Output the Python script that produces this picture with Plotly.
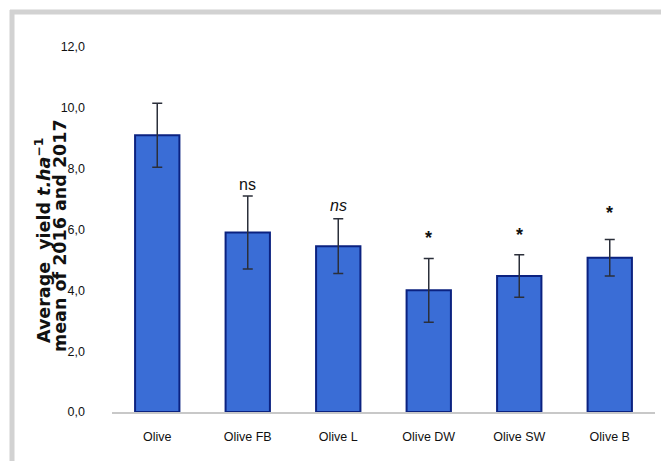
import plotly.graph_objects as go

categories = ["Olive", "Olive FB", "Olive L", "Olive DW", "Olive SW", "Olive B"]
yield_mean = [9.1, 5.9, 5.45, 4.0, 4.47, 5.07]
yield_err = [1.05, 1.2, 0.9, 1.05, 0.7, 0.6]
sig_labels = ["", "ns", "<i>ns</i>", "<b>*</b>", "<b>*</b>", "<b>*</b>"]
sig_y = [None, 7.47, 6.8, 5.72, 5.82, 6.55]
tick_vals = [0, 2, 4, 6, 8, 10, 12]
title_lines = ["<b>Average  yield <i>t.ha</i><sup>−1</sup></b>", "<b>mean of 2016 and 2017</b>"]

OFF = 8  # page body margin
W, H = 669 - OFF, 461 - OFF
ml, mr, mt, mb = 112 - OFF, 14, 47 - OFF, 49
pw, ph = W - ml - mr, H - mt - mb

def px_x(px):
    return (px - OFF - ml) / pw

def px_y(py):
    return (H - mb - (py - OFF)) / ph

fig = go.Figure()
fig.add_trace(go.Bar(
    x=categories, y=yield_mean, width=0.49,
    marker=dict(color="#3a6dd6", line=dict(color="#0b2280", width=2)),
    error_y=dict(type="data", array=yield_err, visible=True,
                 color="#2b2f3a", thickness=1.5, width=5),
))

for c, t, y in zip(categories, sig_labels, sig_y):
    if t:
        fig.add_annotation(x=c, y=y, text=t, showarrow=False,
                           font=dict(family="Liberation Sans, Arial", size=16 if "ns" in t else 18, color="#111111"))

for line, cx, cy in zip(title_lines, [43, 60], [241, 236]):
    fig.add_annotation(
        xref="paper", yref="paper", x=px_x(cx), y=px_y(cy), showarrow=False,
        xanchor="center", yanchor="middle", textangle=-90, text=line,
        font=dict(family="DejaVu Sans, Verdana", size=17.5, color="#111111"),
    )

# grey frame (shadow-like)
fig.add_shape(type="line", xref="paper", yref="paper",
              x0=px_x(10), x1=px_x(680), y0=px_y(12), y1=px_y(12),
              line=dict(color="#d2d2d2", width=5))
fig.add_shape(type="line", xref="paper", yref="paper",
              x0=px_x(12), x1=px_x(12), y0=px_y(10), y1=px_y(470),
              line=dict(color="#d2d2d2", width=5))

fig.update_layout(
    width=W, height=H, margin=dict(l=ml, r=mr, t=mt, b=mb),
    paper_bgcolor="white", plot_bgcolor="white",
    separators=",.", showlegend=False,
    font=dict(family="Liberation Sans, Arial", size=12, color="#111111"),
)
fig.update_xaxes(showline=True, linecolor="#c8c8c8", linewidth=1.5, showgrid=False,
                 ticks="", tickfont=dict(size=12.5), ticklabelstandoff=12)
fig.update_yaxes(range=[0, 12], tickvals=tick_vals, tickformat=".1f", showgrid=False,
                 zeroline=False, showline=False, ticks="", tickfont=dict(size=12.5),
                 ticklabelstandoff=26)

fig.write_html("out.html")
